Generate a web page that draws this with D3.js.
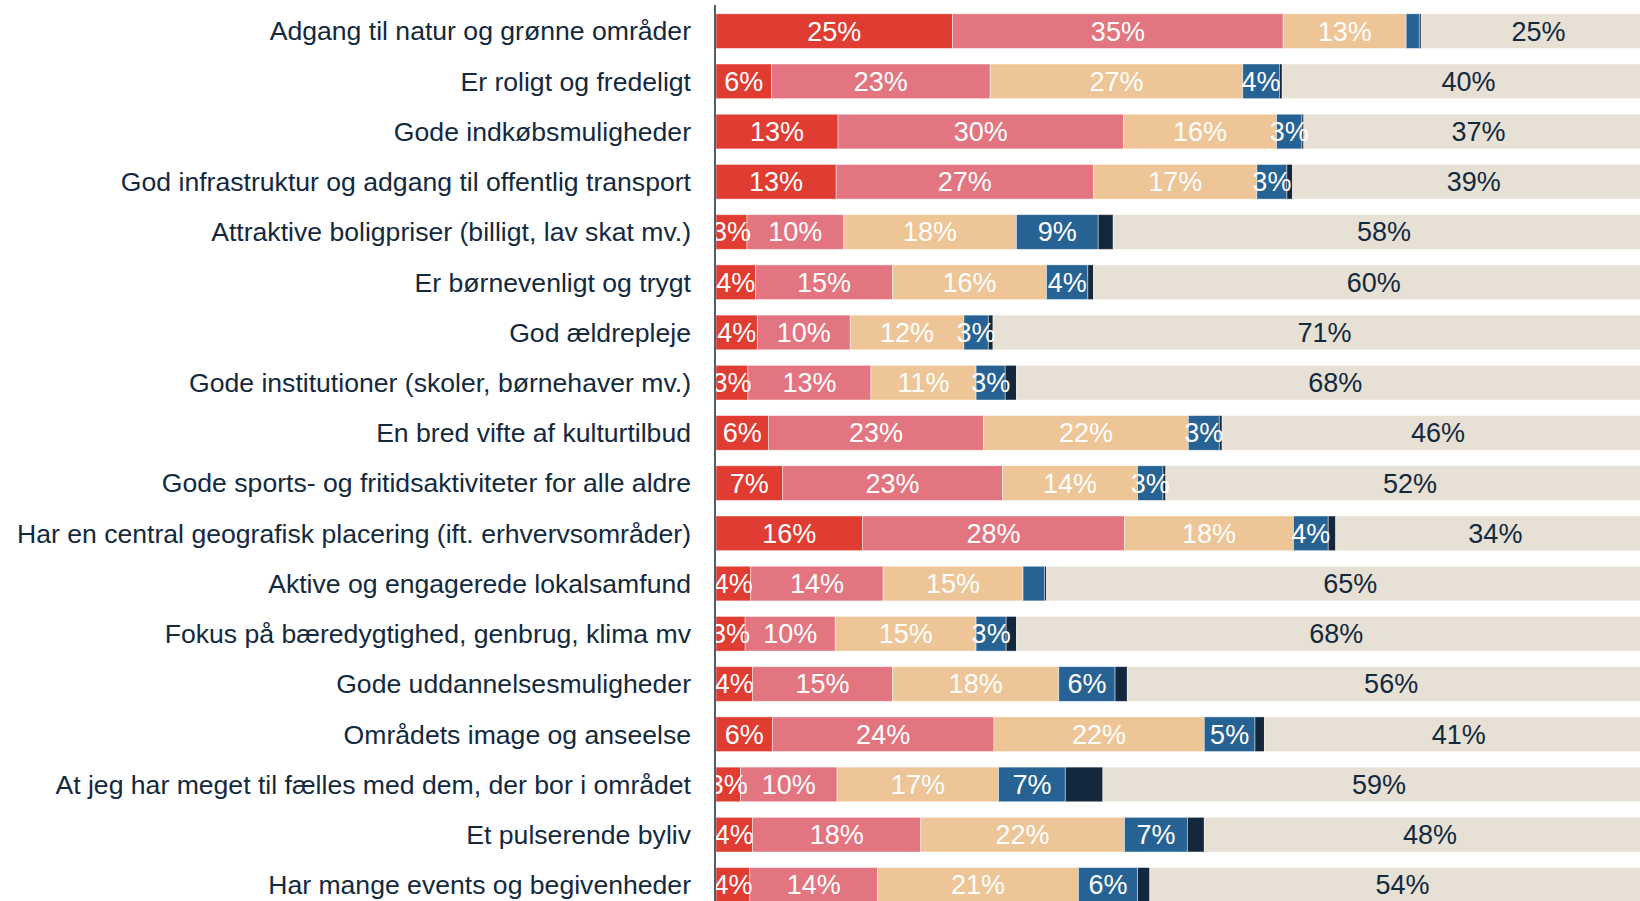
<!DOCTYPE html>
<html>
<head>
<meta charset="utf-8">
<script src="https://cdn.jsdelivr.net/npm/d3@7"></script>
<style>
  html, body { margin: 0; padding: 0; background: #fff; }
  svg { display: block; font-family: "Liberation Sans", Arial, sans-serif; }
</style>
</head>
<body>
<svg id="chart"></svg>
<script>
// Kategorier (udsagn)
const categories = [
  "Adgang til natur og grønne områder",
  "Er roligt og fredeligt",
  "Gode indkøbsmuligheder",
  "God infrastruktur og adgang til offentlig transport",
  "Attraktive boligpriser (billigt, lav skat mv.)",
  "Er børnevenligt og trygt",
  "God ældrepleje",
  "Gode institutioner (skoler, børnehaver mv.)",
  "En bred vifte af kulturtilbud",
  "Gode sports- og fritidsaktiviteter for alle aldre",
  "Har en central geografisk placering (ift. erhvervsområder)",
  "Aktive og engagerede lokalsamfund",
  "Fokus på bæredygtighed, genbrug, klima mv",
  "Gode uddannelsesmuligheder",
  "Områdets image og anseelse",
  "At jeg har meget til fælles med dem, der bor i området",
  "Et pulserende byliv",
  "Har mange events og begivenheder"
];

// Andele i procent pr. svarkategori (aflæst)
const serie1 = [25.2, 5.9, 13.0, 12.8, 3.3, 4.2, 4.4, 3.4, 5.6, 7.1, 15.6, 3.7, 3.1, 3.9, 6.0, 2.6, 3.9, 3.6];
const serie2 = [35.2, 23.3, 30.4, 27.4, 10.3, 14.6, 9.9, 13.1, 22.9, 23.4, 27.9, 14.1, 9.6, 14.9, 23.6, 10.3, 17.9, 13.6];
const serie3 = [13.1, 26.9, 16.3, 17.4, 18.4, 16.4, 12.1, 11.2, 21.8, 14.4, 18.0, 14.9, 15.0, 17.7, 22.4, 17.2, 21.7, 21.4];
const serie4 = [1.4, 3.9, 2.7, 3.2, 8.7, 4.4, 2.6, 3.1, 3.3, 2.7, 3.7, 2.3, 3.2, 6.0, 5.4, 7.1, 6.7, 6.3];
const serie5 = [0.2, 0.3, 0.2, 0.6, 1.6, 0.6, 0.5, 1.2, 0.3, 0.3, 0.8, 0.2, 1.1, 1.3, 1.0, 4.0, 1.8, 1.3];
const serie6 = [25.0, 39.7, 37.2, 38.6, 57.7, 59.7, 70.6, 67.9, 46.0, 52.0, 34.0, 64.7, 68.1, 56.2, 41.4, 58.8, 48.1, 53.8];

const keys = ["s1", "s2", "s3", "s4", "s5", "s6"];
const colors = ["#e03c31", "#e37580", "#eec596", "#266293", "#13283c", "#e7e0d5"];
const navy = "#13293d";

const rows = categories.map((c, i) => ({
    cat: c, s1: serie1[i], s2: serie2[i], s3: serie3[i], s4: serie4[i], s5: serie5[i], s6: serie6[i]
}));

const width = 1640, height = 901;
const svg = d3.select("#chart").attr("width", width).attr("height", height);

const x = d3.scaleLinear().domain([0, 100]).range([716, 1655]);
const y = d3.scaleBand().domain(categories).range([6, 910]).paddingInner(0.31).paddingOuter(0.155);
const color = d3.scaleOrdinal().domain(keys).range(colors);

// Clip på plotområdet (tekst ved små segmenter skæres ved aksen)
svg.append("clipPath").attr("id", "plot-clip")
    .append("rect").attr("x", 716).attr("y", 0).attr("width", width - 716).attr("height", height);

const stacked = d3.stack().keys(keys)(rows);
const plot = svg.append("g").attr("clip-path", "url(#plot-clip)");

// Segmenter
const layers = plot.selectAll("g.layer").data(stacked).enter()
    .append("g")
    .attr("class", "layer")
    .attr("fill", d => color(d.key));

layers.selectAll("rect").data(d => d).enter()
    .append("rect")
    .attr("x", d => x(d[0]))
    .attr("y", d => y(d.data.cat))
    .attr("width", d => x(d[1]) - x(d[0]))
    .attr("height", y.bandwidth())
    .attr("stroke", "#fff")
    .attr("stroke-opacity", 0.55)
    .attr("stroke-width", 0.8);

// Procent-etiketter (ikke for den mørke serie og meget små segmenter)
const labels = [];
stacked.forEach(layer => {
    if (layer.key === "s5") return;
    layer.forEach(d => {
        const v = d[1] - d[0];
        if (v >= 2.5) labels.push({ key: layer.key, v: v, x0: d[0], x1: d[1], cat: d.data.cat });
    });
});

plot.selectAll("text.val").data(labels).enter()
    .append("text")
    .attr("class", "val")
    .attr("x", d => (x(d.x0) + x(d.x1)) / 2)
    .attr("y", d => y(d.cat) + y.bandwidth() / 2)
    .attr("dy", "0.35em")
    .attr("text-anchor", "middle")
    .attr("font-size", 27)
    .attr("fill", d => d.key === "s6" ? navy : "#fff")
    .text(d => Math.round(d.v) + "%");

// Kategori-tekster
svg.selectAll("text.cat").data(categories).enter()
    .append("text")
    .attr("class", "cat")
    .attr("x", 691)
    .attr("y", d => y(d) + y.bandwidth() / 2)
    .attr("dy", "0.35em")
    .attr("text-anchor", "end")
    .attr("font-size", 26.6)
    .attr("fill", navy)
    .text(d => d);

// Akselinje
svg.append("line")
    .attr("x1", 715).attr("x2", 715)
    .attr("y1", 5).attr("y2", height)
    .attr("stroke", navy)
    .attr("stroke-width", 1.5);
</script>
</body>
</html>
